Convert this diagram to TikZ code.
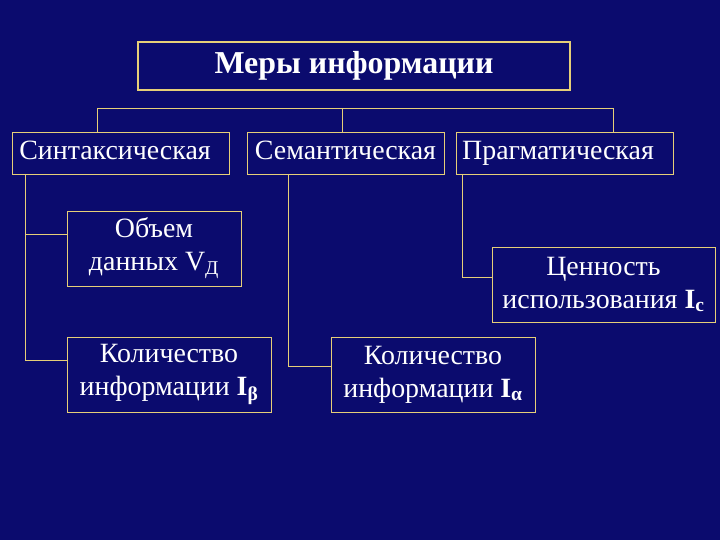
\documentclass[tikz,border=0pt]{standalone}
\usepackage{fontspec}
\setmainfont{Liberation Serif}
\usetikzlibrary{positioning}
\definecolor{slide}{HTML}{0B0B6E}
\definecolor{frame}{HTML}{E6CF78}

\begin{document}
\begin{tikzpicture}[x=1bp,y=-1bp,
    box/.style={draw=frame,line width=0.9bp,text=white,align=center,inner sep=0pt,
      font=\fontsize{28}{33}\selectfont},
    kind/.style={box,minimum height=42bp,text height=19bp,text depth=6bp},
    link/.style={draw=frame,line width=0.9bp}]
  \fill[slide] (0,0) rectangle (720,540);
  % title
  \node[box,line width=2.5bp,minimum width=432bp,minimum height=48bp,
    font=\bfseries\fontsize{32}{36}\selectfont] (measures) at (354,66) {Меры информации};
  % kinds of measure
  \node[kind,minimum width=217bp] (synt) at (120.5,153) {Синтаксическая\hspace*{11bp}};
  \node[kind,minimum width=197bp] (sem) at (345.5,153) {Семантическая};
  \node[kind,minimum width=217bp] (prag) at (564.5,153) {Прагматическая\hspace*{13bp}};
  % measures of each kind
  \node[box,minimum width=174bp,minimum height=75bp] (volume) at (154,248.5)
    {Объем\\данных V\textsubscript{Д}};
  \node[box,minimum width=204bp,minimum height=75bp] (ibeta) at (169,374.5)
    {Количество\\информации \textbf{I\textsubscript{β}}};
  \node[box,minimum width=204bp,minimum height=75bp] (ialpha) at (433,374.5)
    {Количество\\информации \textbf{I\textsubscript{α}}};
  \node[box,minimum width=223bp,minimum height=75bp] (value) at (603.5,284.5)
    {Ценность\\использования \textbf{I\textsubscript{c}}};
  % connectors
  \coordinate (busl) at (97,108);
  \coordinate (busm) at (342,108);
  \coordinate (busr) at (613,108);
  \draw[link] (busl) -- (busr);
  \draw[link] (busl) -- (busl |- synt.north);
  \draw[link] (busm) -- (busm |- sem.north);
  \draw[link] (busr) -- (busr |- prag.north);
  \coordinate (syntdown) at (25,174);
  \coordinate (semdown) at (288,174);
  \coordinate (pragdown) at (462,174);
  \coordinate (volin) at ([yshift=14bp]volume.west);
  \coordinate (ibetain) at ([yshift=14bp]ibeta.west);
  \coordinate (ialphain) at ([yshift=8bp]ialpha.west);
  \coordinate (valuein) at ([yshift=7.5bp]value.west);
  \draw[link] (syntdown) |- (ibetain);
  \draw[link] (syntdown |- volin) -- (volin);
  \draw[link] (semdown) |- (ialphain);
  \draw[link] (pragdown) |- (valuein);
\end{tikzpicture}
\end{document}
